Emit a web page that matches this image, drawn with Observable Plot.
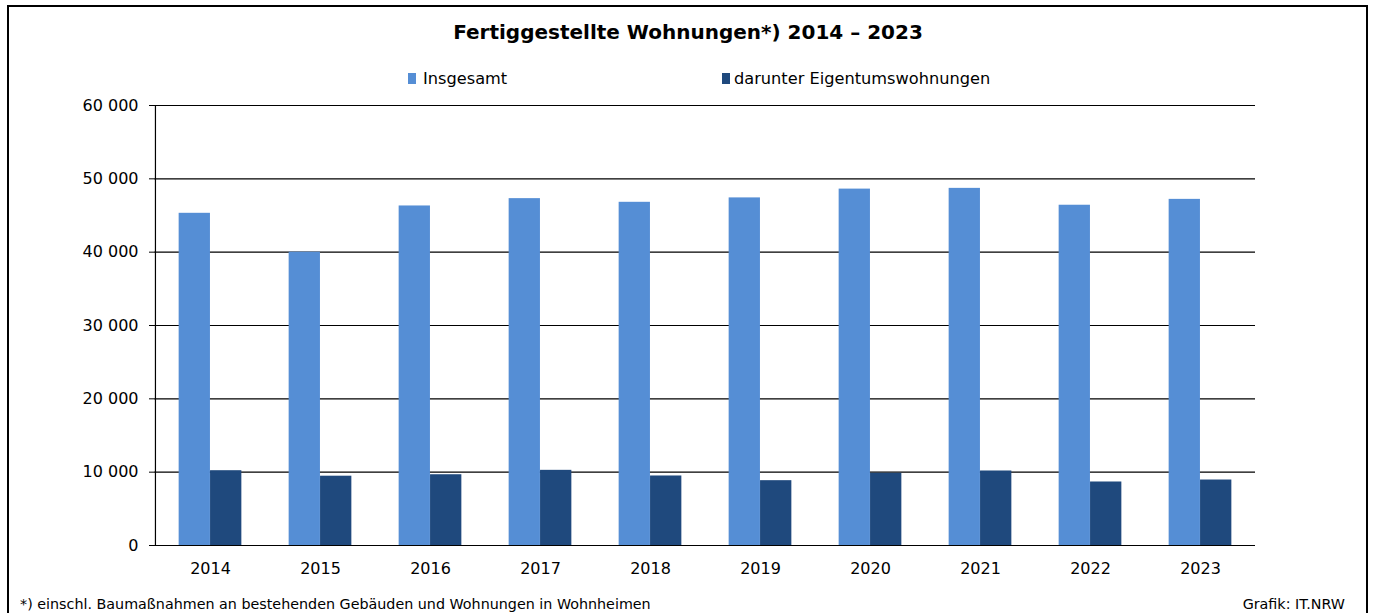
<!DOCTYPE html>
<html>
<head>
<meta charset="utf-8">
<script src="https://cdn.jsdelivr.net/npm/d3@7"></script>
<script src="https://cdn.jsdelivr.net/npm/@observablehq/plot@0.6"></script>
<style>
  html, body { margin: 0; padding: 0; background: #fff; }
  #wrap { position: relative; width: 1376px; height: 613px; overflow: hidden; background: #fff;
          font-family: "DejaVu Sans", sans-serif; color: #000; }
  #frame { position: absolute; left: 7px; top: 5px; width: 1357px; height: 700px;
           border-top: 2px solid #000; border-left: 2px solid #000; border-right: 2px solid #000; }
  #title { position: absolute; left: 0; width: 1376px; top: 20px; text-align: center;
           font-weight: bold; font-size: 20px; line-height: 24px; }
  .leg { position: absolute; top: 69px; font-size: 16.2px; line-height: 20px; white-space: nowrap; }
  .sw { position: absolute; width: 8px; height: 11px; top: 73px; }
  #chart { position: absolute; left: 0; top: 90px; }
  .foot { position: absolute; top: 596px; font-size: 14.3px; line-height: 16px; white-space: nowrap; }
</style>
</head>
<body>
<div id="wrap">
  <div id="frame"></div>
  <div id="title"></div>
  <div id="legend"></div>
  <div id="chart"></div>
  <div class="foot" id="note" style="left:20px"></div>
  <div class="foot" id="source" style="right:31px"></div>
</div>
<script>
// ---- data ----
const titleText = "Fertiggestellte Wohnungen*) 2014 – 2023";
const seriesNames = ["Insgesamt", "darunter Eigentumswohnungen"];
const seriesColors = ["#558ED5", "#1F497D"];
const years = [2014, 2015, 2016, 2017, 2018, 2019, 2020, 2021, 2022, 2023];
const insgesamt = [45300, 40000, 46300, 47300, 46800, 47400, 48600, 48700, 46400, 47200];
const eigentum = [10200, 9450, 9650, 10250, 9480, 8840, 9850, 10160, 8660, 8930];
const yTicks = [0, 10000, 20000, 30000, 40000, 50000, 60000];
const noteText = "*) einschl. Baumaßnahmen an bestehenden Gebäuden und Wohnungen in Wohnheimen";
const sourceText = "Grafik: IT.NRW";

// ---- texts ----
document.getElementById("title").textContent = titleText;
document.getElementById("note").textContent = noteText;
document.getElementById("source").textContent = sourceText;
const legend = document.getElementById("legend");
const legPos = [{sw: 408, tx: 423}, {sw: 722, tx: 734}];
seriesNames.forEach((name, i) => {
  const sw = document.createElement("div");
  sw.className = "sw"; sw.style.left = legPos[i].sw + "px"; sw.style.background = seriesColors[i];
  legend.appendChild(sw);
  const t = document.createElement("div");
  t.className = "leg"; t.style.left = legPos[i].tx + "px"; t.textContent = name;
  legend.appendChild(t);
});

// ---- chart ----
const rows = years.map((year, i) => ({year, total: insgesamt[i], own: eigentum[i]}));
const width = 1376, height = 500;
const marginLeft = 154, marginRight = 121, marginTop = 15, marginBottom = 45;
const bw = (width - marginLeft - marginRight) / years.length;
const barW = 31.4;
const side = (bw - 2 * barW) / 2;
const locale = d3.formatLocale({thousands: " ", grouping: [3], decimal: ",", currency: ["", " €"]});
const fmt = locale.format(",d");

const plot = Plot.plot({
  width, height, marginLeft, marginRight, marginTop, marginBottom,
  style: {fontFamily: "DejaVu Sans, sans-serif", fontSize: "16px", color: "#000", background: "transparent", overflow: "visible"},
  x: {type: "band", domain: years, padding: 0, label: null},
  y: {domain: [0, 60000], label: null},
  marks: [
    Plot.ruleY(yTicks, {stroke: "#000", strokeWidth: 1.2}),
    Plot.barY(rows, {x: "year", y: "total", fill: seriesColors[0], insetLeft: side, insetRight: side + barW}),
    Plot.barY(rows, {x: "year", y: "own", fill: seriesColors[1], insetLeft: side + barW, insetRight: side}),
    Plot.ruleX([years[0]], {x: d => d, y1: 0, y2: 60000, dx: -bw / 2, stroke: "#000", strokeWidth: 1.2}),
    Plot.axisY({ticks: yTicks, tickSize: 5, tickPadding: 11, tickFormat: fmt, stroke: "#000", strokeOpacity: 1, label: null}),
    Plot.axisX({tickSize: 0, tickPadding: 17, tickFormat: d => String(d), label: null})
  ]
});
document.getElementById("chart").appendChild(plot);
</script>
</body>
</html>
